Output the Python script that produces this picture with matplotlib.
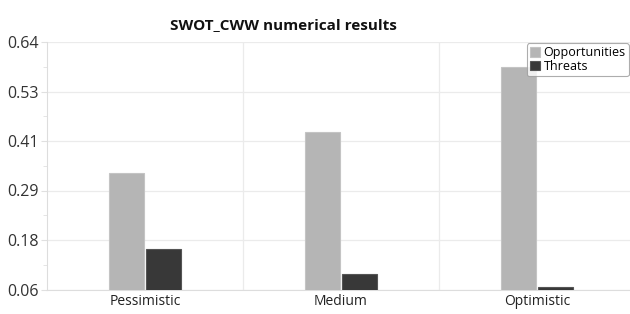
import numpy as np
import matplotlib.pyplot as plt

# Datos
escenarios = ['Pessimistic', 'Medium', 'Optimistic']
oportunidades = [0.332, 0.430, 0.581]
amenazas = [0.154, 0.096, 0.066]
yticks = [0.06, 0.176, 0.292, 0.408, 0.524, 0.64]
yticklabels = ['0.06', '0.18', '0.29', '0.41', '0.53', '0.64']

plt.rcParams['font.family'] = ['Open Sans', 'DejaVu Sans']

fig = plt.figure(figsize=(6.3, 3.14), dpi=100)
ax = fig.add_axes([47 / 630, (314 - 289.5) / 314, (630 - 47) / 630, (289.5 - 42) / 314])

x = np.arange(len(escenarios))
ancho = 0.18
ax.bar(x - 0.095, oportunidades, ancho, bottom=0, color='#b5b5b5', edgecolor='#c4c4c4',
       linewidth=0.8, label='Opportunities', zorder=3)
ax.bar(x + 0.095, amenazas, ancho, bottom=0, color='#383838', edgecolor='#555555',
       linewidth=0.8, label='Threats', zorder=3)

ax.set_ylim(0.06, 0.64)
ax.set_xlim(-0.5, 2.475)
ax.set_yticks(yticks)
ax.set_yticklabels(yticklabels)
ax.set_yticks([(yticks[i] + yticks[i + 1]) / 2 for i in range(len(yticks) - 1)], minor=True)
ax.set_xticks(x)
ax.set_xticklabels(escenarios)
ax.set_xticks([0.5, 1.5], minor=True)

ax.grid(axis='y', which='major', color='#ebebeb', linewidth=0.9, zorder=0)
ax.grid(axis='x', which='minor', color='#ebebeb', linewidth=0.9, zorder=0)
ax.tick_params(axis='y', which='major', length=4, color='#e0e0e0', labelsize=11.5,
               labelcolor='#333333', pad=2)
ax.tick_params(axis='y', which='minor', length=3, color='#e0e0e0')
ax.tick_params(axis='x', which='both', length=0, labelsize=10, labelcolor='#222222', pad=3)

for lado in ['top', 'right']:
    ax.spines[lado].set_visible(False)
for lado in ['left', 'bottom']:
    ax.spines[lado].set_color('#dddddd')

fig.text(283 / 630, 1 - 25 / 314, 'SWOT_CWW numerical results', ha='center', va='center',
         fontsize=11, fontweight='bold', color='#111111')

leg = ax.legend(loc='upper right', bbox_to_anchor=(1.0, 1.0), fontsize=9, frameon=True,
                handlelength=0.8, handleheight=0.8, handletextpad=0.3, borderpad=0.25,
                labelspacing=0.05, borderaxespad=0.1, fancybox=True)
leg.get_frame().set_edgecolor('#999999')
leg.get_frame().set_linewidth(0.8)

fig.savefig('out.png', dpi=100)
